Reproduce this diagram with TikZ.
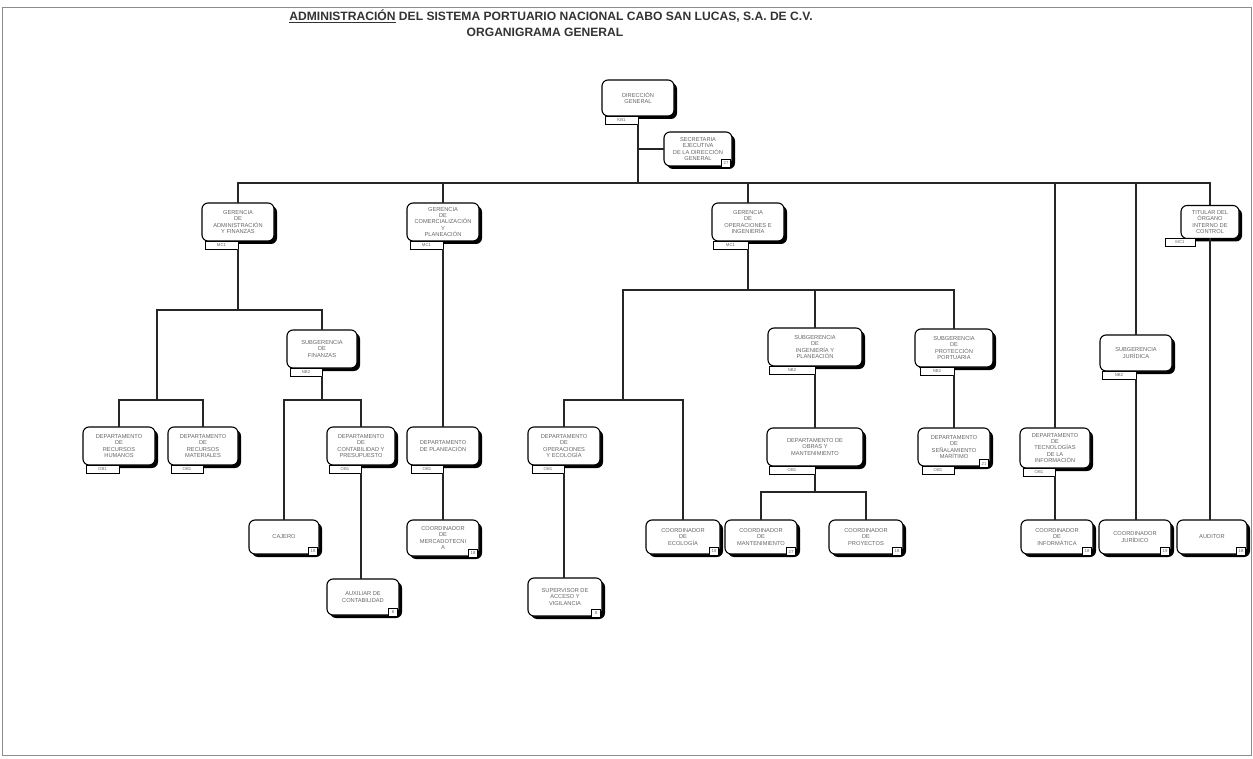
\documentclass[tikz,border=0pt]{standalone}
\usepackage{fontspec}
\setmainfont{Liberation Sans}
\usetikzlibrary{shadows}

\begin{document}
\begin{tikzpicture}[y=1pt, x=1pt, yscale=-1, inner sep=0pt, outer sep=0pt,
  conn/.style={draw=black!85,line join=miter,line cap=butt,line width=1.3pt},
  unit/.style={draw=black,line width=1.1pt,fill=white,rounded corners=6pt,
    drop shadow={shadow xshift=3pt,shadow yshift=-3pt,fill=black,opacity=1},
    align=center,text=black!60,font=\fontsize{5.7}{6.3}\selectfont},
  level/.style={draw=black,line width=0.8pt,fill=white,minimum width=33pt,
    minimum height=8pt,text=black!60,font=\fontsize{4.3}{4.3}\selectfont,anchor=north east},
  grade/.style={draw=black,line width=0.8pt,fill=white,minimum width=9pt,
    minimum height=8pt,text=black!60,font=\fontsize{4.3}{4.3}\selectfont,anchor=south east}]
  \useasboundingbox (0,0) rectangle (1253,759);
  \path[draw=black!45,line width=1pt] (2,8) rectangle (1251,755);

  % titles
  \node[font=\bfseries\fontsize{12.1}{14}\selectfont,text=black!80] (title1) at (551,16)
    {\underline{ADMINISTRACIÓN} DEL SISTEMA PORTUARIO NACIONAL CABO SAN LUCAS, S.A. DE C.V.};
  \node[font=\bfseries\fontsize{12.1}{14}\selectfont,text=black!80] (title2) at (545,32)
    {ORGANIGRAMA GENERAL};

  % direccion
  \node[unit,minimum width=72pt,minimum height=36pt] (dg) at (638,98) {DIRECCIÓN\\GENERAL};
  \node[level] (dg-t) at (dg.south) {KB1};
  \node[unit,minimum width=68pt,minimum height=34pt] (secej) at (698,149)
    {SECRETARIA\\EJECUTIVA\\DE LA DIRECCIÓN\\GENERAL};
  \node[grade] (secej-g) at ([xshift=-1.5pt,yshift=1.5pt]secej.south east) {27};

  % gerencias
  \node[unit,minimum width=72pt,minimum height=38pt] (gaf) at (238,222)
    {GERENCIA\\DE\\ADMINISTRACIÓN\\Y FINANZAS};
  \node[level] (gaf-t) at (gaf.south) {MC1};
  \node[unit,minimum width=72pt,minimum height=38pt] (gcp) at (443,222)
    {GERENCIA\\DE\\COMERCIALIZACIÓN\\Y\\PLANEACIÓN};
  \node[level] (gcp-t) at (gcp.south) {MC1};
  \node[unit,minimum width=72pt,minimum height=38pt] (goi) at (748,222)
    {GERENCIA\\DE\\OPERACIONES E\\INGENIERÍA};
  \node[level,minimum width=35pt] (goi-t) at (goi.south) {MC1};
  \node[unit,minimum width=58pt,minimum height=33pt] (oic) at (1210,222)
    {TITULAR DEL\\ÓRGANO\\INTERNO DE\\CONTROL};
  \node[level,minimum width=30pt] (oic-t) at ([xshift=-15pt]oic.south) {MC1};

  % administracion y finanzas
  \node[unit,minimum width=70pt,minimum height=38pt] (sgf) at (322,349)
    {SUBGERENCIA\\DE\\FINANZAS};
  \node[level,minimum width=32pt] (sgf-t) at (sgf.south) {NB2};
  \node[unit,minimum width=72pt,minimum height=38pt] (drh) at (119,446)
    {DEPARTAMENTO\\DE\\RECURSOS\\HUMANOS};
  \node[level] (drh-t) at (drh.south) {OB1};
  \node[unit,minimum width=70pt,minimum height=38pt] (drm) at (203,446)
    {DEPARTAMENTO\\DE\\RECURSOS\\MATERIALES};
  \node[level,minimum width=32pt] (drm-t) at (drm.south) {OB1};
  \node[unit,minimum width=68pt,minimum height=38pt] (dcp) at (361,446)
    {DEPARTAMENTO\\DE\\CONTABILIDAD Y\\PRESUPUESTO};
  \node[level,minimum width=32pt] (dcp-t) at (dcp.south) {OB1};
  \node[unit,minimum width=70pt,minimum height=34pt] (caj) at (284,537) {CAJERO};
  \node[grade] (caj-g) at ([xshift=-1.5pt,yshift=1.5pt]caj.south east) {18};
  \node[unit,minimum width=72pt,minimum height=36pt] (aux) at (363,597)
    {AUXILIAR DE\\CONTABILIDAD};
  \node[grade] (aux-g) at ([xshift=-1.5pt,yshift=1.5pt]aux.south east) {8};

  % comercializacion
  \node[unit,minimum width=72pt,minimum height=38pt] (dpl) at (443,446)
    {DEPARTAMENTO\\DE PLANEACIÓN};
  \node[level,minimum width=32pt] (dpl-t) at (dpl.south) {OB1};
  \node[unit,minimum width=72pt,minimum height=36pt] (cmk) at (443,538)
    {COORDINADOR\\DE\\MERCADOTECNI\\A};
  \node[grade] (cmk-g) at ([xshift=-1.5pt,yshift=1.5pt]cmk.south east) {18};

  % operaciones e ingenieria
  \node[unit,minimum width=72pt,minimum height=38pt] (doe) at (564,446)
    {DEPARTAMENTO\\DE\\OPERACIONES\\Y ECOLOGÍA};
  \node[level,minimum width=32pt] (doe-t) at (doe.south) {OB1};
  \node[unit,minimum width=74pt,minimum height=38pt] (sva) at (565,597)
    {SUPERVISOR DE\\ACCESO Y\\VIGILANCIA};
  \node[grade] (sva-g) at ([xshift=-1.5pt,yshift=1.5pt]sva.south east) {8};
  \node[unit,minimum width=74pt,minimum height=34pt] (cec) at (683,537)
    {COORDINADOR\\DE\\ECOLOGÍA};
  \node[grade] (cec-g) at ([xshift=-1.5pt,yshift=1.5pt]cec.south east) {18};
  \node[unit,minimum width=94pt,minimum height=38pt] (sgip) at (815,347)
    {SUBGERENCIA\\DE\\INGENIERÍA Y\\PLANEACIÓN};
  \node[level,minimum width=46pt] (sgip-t) at (sgip.south) {NB2};
  \node[unit,minimum width=96pt,minimum height=38pt] (dom) at (815,447)
    {DEPARTAMENTO DE\\OBRAS Y\\MANTENIMIENTO};
  \node[level,minimum width=46pt] (dom-t) at (dom.south) {OB1};
  \node[unit,minimum width=72pt,minimum height=34pt] (cmt) at (761,537)
    {COORDINADOR\\DE\\MANTENIMIENTO};
  \node[grade] (cmt-g) at ([xshift=-1.5pt,yshift=1.5pt]cmt.south east) {27};
  \node[unit,minimum width=74pt,minimum height=34pt] (cpy) at (866,537)
    {COORDINADOR\\DE\\PROYECTOS};
  \node[grade] (cpy-g) at ([xshift=-1.5pt,yshift=1.5pt]cpy.south east) {18};
  \node[unit,minimum width=78pt,minimum height=38pt] (sgpp) at (954,348)
    {SUBGERENCIA\\DE\\PROTECCIÓN\\PORTUARIA};
  \node[level,minimum width=34pt] (sgpp-t) at (sgpp.south) {NB2};
  \node[unit,minimum width=72pt,minimum height=38pt] (dsm) at (954,447)
    {DEPARTAMENTO\\DE\\SEÑALAMIENTO\\MARÍTIMO};
  \node[level,minimum width=32pt] (dsm-t) at (dsm.south) {OB1};
  \node[grade] (dsm-g) at ([xshift=-1.5pt,yshift=1.5pt]dsm.south east) {21};

  % staff de direccion
  \node[unit,minimum width=70pt,minimum height=40pt] (dti) at (1055,448)
    {DEPARTAMENTO\\DE\\TECNOLOGÍAS\\DE LA\\INFORMACIÓN};
  \node[level,minimum width=32pt] (dti-t) at (dti.south) {OB1};
  \node[unit,minimum width=72pt,minimum height=34pt] (cin) at (1057,537)
    {COORDINADOR\\DE\\INFORMÁTICA};
  \node[grade] (cin-g) at ([xshift=-1.5pt,yshift=1.5pt]cin.south east) {18};
  \node[unit,minimum width=72pt,minimum height=36pt] (sgj) at (1136,353)
    {SUBGERENCIA\\JURÍDICA};
  \node[level,minimum width=34pt] (sgj-t) at (sgj.south) {NB2};
  \node[unit,minimum width=72pt,minimum height=34pt] (cju) at (1135,537)
    {COORDINADOR\\JURÍDICO};
  \node[grade] (cju-g) at ([xshift=-1.5pt,yshift=1.5pt]cju.south east) {19};
  \node[unit,minimum width=70pt,minimum height=34pt] (aud) at (1212,537) {AUDITOR};
  \node[grade] (aud-g) at ([xshift=-1.5pt,yshift=1.5pt]aud.south east) {18};

  % lineas
  \coordinate (bA) at (638,183);
  \path[conn] (dg-t.south east) -- (bA);
  \path[conn] (secej.west) -- (secej.west -| dg-t.south east);
  \path[conn] (gaf.north) |- (bA) -| (oic.north);
  \path[conn] (gcp.north) -- (gcp.north |- bA);
  \path[conn] (goi.north) -- (goi.north |- bA);
  \path[conn] (dti.north) -- (dti.north |- bA);
  \path[conn] (sgj.north) -- (sgj.north |- bA);

  \coordinate (bB) at (238,310);
  \coordinate (bC) at (157,400);
  \coordinate (bD) at (322,400);
  \path[conn] (gaf-t.south east) -- (bB);
  \path[conn] (sgf.north) |- (bC |- bB) -- (bC);
  \path[conn] (drh.north) |- (bC) -| (drm.north);
  \path[conn] (sgf-t.south east) -- (bD);
  \path[conn] (caj.north) |- (bD) -| (dcp.north);
  \path[conn] (dcp-t.south east) -- (aux.north -| dcp-t.south east);

  \path[conn] (gcp-t.south east) -- (dpl.north -| gcp-t.south east);
  \path[conn] (dpl-t.south east) -- (cmk.north -| dpl-t.south east);

  \coordinate (bE) at (748,290);
  \coordinate (bF) at (623,400);
  \coordinate (bG) at (815,492);
  \path[conn] (goi-t.south east) -- (bE);
  \path[conn] (bF) |- (sgpp.north |- bE) -- (sgpp.north);
  \path[conn] (sgip.north) -- (sgip.north |- bE);
  \path[conn] (doe.north) |- (bF) -| (cec.north);
  \path[conn] (doe-t.south east) -- (sva.north -| doe-t.south east);
  \path[conn] (sgip-t.south east) -- (dom.north -| sgip-t.south east);
  \path[conn] (dom-t.south east) -- (bG);
  \path[conn] (cmt.north) |- (bG) -| (cpy.north);
  \path[conn] (sgpp-t.south east) -- (dsm.north -| sgpp-t.south east);

  \path[conn] (dti-t.south east) -- (cin.north -| dti-t.south east);
  \path[conn] (sgj-t.south east) -- (cju.north -| sgj-t.south east);
  \path[conn] (oic.south) -- (aud.north -| oic.south);

\end{tikzpicture}
\end{document}
